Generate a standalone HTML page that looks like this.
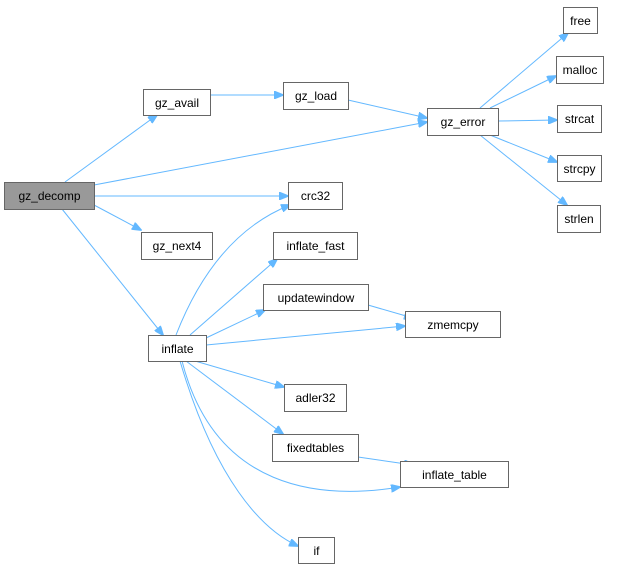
<!DOCTYPE html>
<html><head><meta charset="utf-8"><style>
html,body{margin:0;padding:0;background:#fff;}
svg text{font-family:"Liberation Sans",Arial,sans-serif;font-size:12px;fill:#000;}
</style></head><body>
<svg width="620" height="569" viewBox="0 0 620 569" xmlns="http://www.w3.org/2000/svg">
<defs>
<marker id="a" markerWidth="10" markerHeight="8" refX="9" refY="4" orient="auto" markerUnits="userSpaceOnUse">
<path d="M0,0 L10,4 L0,8 Z" fill="#63b8ff" stroke="#63b8ff"/>
</marker>
</defs>
<g fill="none" stroke="#63b8ff" stroke-width="1" marker-end="url(#a)">
<path d="M65,182 L157,115"/>
<path d="M94,185 L427,122"/>
<path d="M94,196 L288,196"/>
<path d="M94,205 L141,230"/>
<path d="M62,209 L163,335"/>
<path d="M210,95 L283,95"/>
<path d="M348,100 L427,118"/>
<path d="M480,108 L568,33"/>
<path d="M490,108 L556,76"/>
<path d="M498,121 L557,120"/>
<path d="M490,135 L557,162"/>
<path d="M480,135 L567,205"/>
<path d="M176,335 Q215,235 290,205"/>
<path d="M190,335 L277,259"/>
<path d="M206,338 L265,310"/>
<path d="M206,345 L405,326"/>
<path d="M368,305 L413,318"/>
<path d="M195,361 L284,387"/>
<path d="M186,361 L283,434"/>
<path d="M358,457 L413,465"/>
<path d="M182,361 C215,490 320,500 400,487"/>
<path d="M180,361 C215,480 262,530 298,546"/>
</g>
<g stroke="#666" stroke-width="1" fill="#fff">
<rect x="4.5" y="182.5" width="90" height="27" fill="#999"/>
<rect x="143.5" y="89.5" width="67" height="26"/>
<rect x="283.5" y="82.5" width="65" height="27"/>
<rect x="427.5" y="108.5" width="71" height="27"/>
<rect x="563.5" y="7.5" width="34" height="26"/>
<rect x="556.5" y="56.5" width="47" height="27"/>
<rect x="557.5" y="105.5" width="44" height="27"/>
<rect x="557.5" y="155.5" width="44" height="26"/>
<rect x="557.5" y="205.5" width="43" height="27"/>
<rect x="288.5" y="182.5" width="54" height="27"/>
<rect x="141.5" y="232.5" width="71" height="27"/>
<rect x="273.5" y="232.5" width="84" height="27"/>
<rect x="263.5" y="284.5" width="105" height="26"/>
<rect x="405.5" y="311.5" width="95" height="26"/>
<rect x="148.5" y="335.5" width="58" height="26"/>
<rect x="284.5" y="384.5" width="62" height="27"/>
<rect x="272.5" y="434.5" width="86" height="27"/>
<rect x="400.5" y="461.5" width="108" height="26"/>
<rect x="298.5" y="537.5" width="36" height="26"/>
</g>
<g text-anchor="middle">
<text x="49.5" y="200">gz_decomp</text>
<text x="177" y="107">gz_avail</text>
<text x="316" y="100">gz_load</text>
<text x="463" y="126">gz_error</text>
<text x="580.5" y="25">free</text>
<text x="580" y="74">malloc</text>
<text x="579.5" y="123">strcat</text>
<text x="579.5" y="173">strcpy</text>
<text x="579" y="223">strlen</text>
<text x="315.5" y="200">crc32</text>
<text x="177" y="250">gz_next4</text>
<text x="315.5" y="250">inflate_fast</text>
<text x="316" y="302">updatewindow</text>
<text x="453" y="329">zmemcpy</text>
<text x="177.5" y="353">inflate</text>
<text x="315.5" y="402">adler32</text>
<text x="315.5" y="452">fixedtables</text>
<text x="454.5" y="479">inflate_table</text>
<text x="316.5" y="555">if</text>
</g>
</svg>
</body></html>
